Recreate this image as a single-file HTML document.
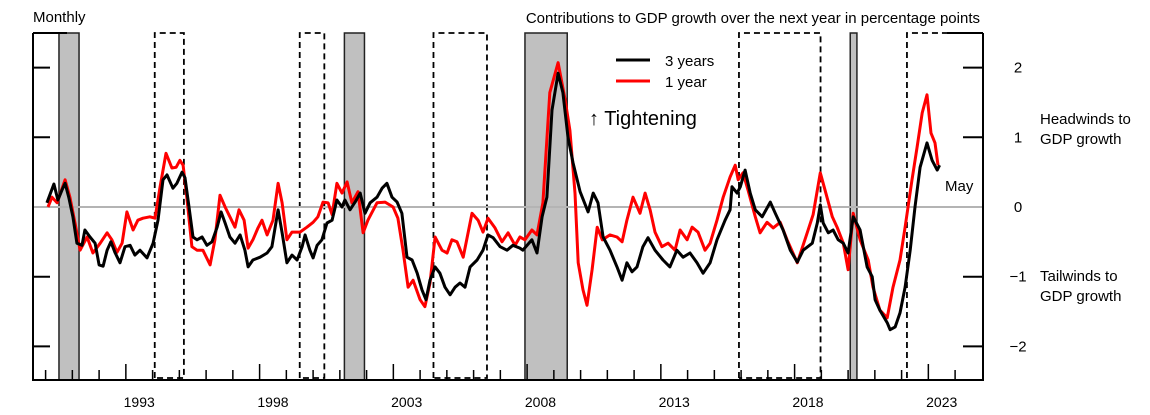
<!DOCTYPE html>
<html><head><meta charset="utf-8"><style>
html,body{margin:0;padding:0;background:#fff;}
svg{display:block;font-family:"Liberation Sans",sans-serif;}
</style></head><body>
<svg id="chart" width="1150" height="415" viewBox="0 0 1150 415" xmlns="http://www.w3.org/2000/svg">
<text x="33" y="22" font-size="15">Monthly</text>
<text x="980" y="23" font-size="15" text-anchor="end">Contributions to GDP growth over the next year in percentage points</text>
<g id="shade"></g>
<line x1="33" y1="207" x2="983" y2="207" stroke="#b4b4b4" stroke-width="2"/>
<g id="lines"></g>
<g id="axes"></g>
<g>
<line x1="616" y1="60" x2="650" y2="60" stroke="#000" stroke-width="3"/>
<text x="665" y="66" font-size="15">3 years</text>
<line x1="616" y1="81" x2="650" y2="81" stroke="#f00" stroke-width="3"/>
<text x="665" y="87" font-size="15">1 year</text>
</g>
<text x="589" y="125" font-size="20">↑ Tightening</text>
<text x="945" y="191" font-size="15">May</text>
<text x="1040" y="124" font-size="15">Headwinds to</text>
<text x="1040" y="144" font-size="15">GDP growth</text>
<text x="1040" y="281" font-size="15">Tailwinds to</text>
<text x="1040" y="301" font-size="15">GDP growth</text>
</svg>
<script>
const yTicks=[2,1,0,-1,-2];
const yTickLabels=["2","1","0","\u22121","\u22122"];
const xLabelYears=[1993,1998,2003,2008,2013,2018,2023];
const recessions=[[1990.5,1991.25],[2001.17,2001.92],[2007.92,2009.5],[2020.08,2020.33]];
const tightenings=[[1994.08,1995.17],[1999.5,2000.42],[2004.5,2006.5],[2015.92,2018.97],[2022.2,2025.2]];
const dates3y=[1990.05,1990.31,1990.46,1990.61,1990.73,1990.87,1991.02,1991.17,1991.36,1991.47,1991.66,1991.85,1992.00,1992.15,1992.30,1992.44,1992.59,1992.78,1992.97,1993.16,1993.34,1993.53,1993.79,1994.02,1994.20,1994.39,1994.54,1994.76,1994.91,1995.10,1995.21,1995.36,1995.51,1995.66,1995.85,1996.03,1996.22,1996.41,1996.56,1996.71,1996.89,1997.08,1997.27,1997.45,1997.57,1997.75,1998.02,1998.28,1998.46,1998.69,1998.84,1999.02,1999.21,1999.40,1999.59,1999.70,1999.88,2000.00,2000.15,2000.33,2000.52,2000.71,2000.89,2001.08,2001.19,2001.38,2001.57,2001.76,2001.94,2002.13,2002.39,2002.58,2002.76,2002.95,2003.14,2003.32,2003.51,2003.70,2003.89,2004.07,2004.22,2004.37,2004.56,2004.74,2004.93,2005.12,2005.31,2005.49,2005.68,2005.87,2006.13,2006.35,2006.54,2006.73,2006.99,2007.25,2007.47,2007.73,2007.84,2008.18,2008.37,2008.56,2008.74,2008.93,2009.16,2009.34,2009.53,2009.72,2009.98,2010.28,2010.47,2010.65,2010.84,2011.10,2011.36,2011.55,2011.73,2011.92,2012.11,2012.33,2012.52,2012.78,2013.08,2013.34,2013.60,2013.83,2014.09,2014.35,2014.58,2014.84,2015.10,2015.40,2015.59,2015.66,2015.85,2015.97,2016.15,2016.34,2016.53,2016.79,2017.09,2017.28,2017.57,2017.84,2018.10,2018.32,2018.66,2018.85,2018.96,2019.07,2019.26,2019.44,2019.63,2019.82,2020.00,2020.19,2020.45,2020.71,2020.90,2021.01,2021.19,2021.46,2021.57,2021.76,2021.94,2022.13,2022.32,2022.50,2022.69,2022.95,2023.14,2023.33,2023.42];
const values3y=[0.06,0.33,0.10,0.24,0.34,0.13,-0.14,-0.52,-0.55,-0.33,-0.43,-0.52,-0.83,-0.85,-0.62,-0.50,-0.65,-0.80,-0.57,-0.55,-0.69,-0.62,-0.73,-0.52,-0.19,0.39,0.46,0.27,0.34,0.50,0.42,0.00,-0.43,-0.47,-0.43,-0.55,-0.50,-0.29,-0.07,-0.23,-0.43,-0.52,-0.40,-0.62,-0.86,-0.76,-0.72,-0.66,-0.57,-0.04,-0.37,-0.80,-0.69,-0.76,-0.57,-0.40,-0.62,-0.73,-0.55,-0.47,-0.23,-0.19,0.10,0.00,0.10,-0.04,0.07,0.20,-0.09,0.06,0.14,0.27,0.34,0.14,0.07,-0.09,-0.72,-0.76,-0.95,-1.19,-1.33,-1.05,-0.86,-0.95,-1.15,-1.26,-1.15,-1.09,-1.15,-0.86,-0.76,-0.62,-0.40,-0.44,-0.57,-0.62,-0.55,-0.59,-0.62,-0.47,-0.66,-0.14,0.14,1.39,1.92,1.64,1.00,0.63,0.22,-0.07,0.20,0.06,-0.43,-0.62,-0.86,-1.05,-0.80,-0.93,-0.86,-0.57,-0.44,-0.62,-0.76,-0.86,-0.62,-0.72,-0.66,-0.80,-0.95,-0.80,-0.47,-0.19,-0.04,0.29,0.20,0.29,0.53,0.20,-0.04,-0.14,0.07,-0.09,-0.33,-0.62,-0.79,-0.62,-0.52,-0.23,0.03,-0.23,-0.37,-0.33,-0.47,-0.52,-0.66,-0.14,-0.33,-0.86,-1.00,-1.33,-1.48,-1.66,-1.76,-1.72,-1.52,-1.15,-0.62,0.00,0.57,0.92,0.67,0.53,0.60];
const dates1y=[1990.09,1990.24,1990.43,1990.73,1990.91,1991.10,1991.29,1991.55,1991.77,1992.04,1992.30,1992.48,1992.67,1992.86,1993.04,1993.27,1993.45,1993.64,1993.90,1994.09,1994.28,1994.50,1994.72,1994.88,1995.02,1995.14,1995.29,1995.47,1995.66,1995.88,1996.15,1996.33,1996.52,1996.71,1996.89,1997.08,1997.23,1997.42,1997.57,1997.75,1997.94,1998.09,1998.28,1998.50,1998.69,1998.84,1999.02,1999.21,1999.51,1999.77,2000.00,2000.18,2000.37,2000.56,2000.71,2000.89,2001.08,2001.27,2001.45,2001.68,2001.87,2002.05,2002.39,2002.69,2002.99,2003.17,2003.36,2003.55,2003.74,2004.00,2004.18,2004.37,2004.56,2004.82,2005.01,2005.19,2005.38,2005.61,2005.94,2006.17,2006.35,2006.54,2006.80,2007.06,2007.29,2007.55,2007.73,2007.92,2008.18,2008.37,2008.59,2008.85,2009.16,2009.42,2009.60,2009.79,2009.91,2010.09,2010.24,2010.43,2010.62,2010.81,2011.10,2011.36,2011.55,2011.73,2011.96,2012.22,2012.41,2012.60,2012.78,2013.04,2013.27,2013.53,2013.72,2013.98,2014.17,2014.39,2014.65,2014.84,2015.10,2015.33,2015.59,2015.78,2015.89,2016.07,2016.26,2016.53,2016.71,2016.97,2017.20,2017.46,2017.72,2018.10,2018.47,2018.69,2018.96,2019.14,2019.41,2019.59,2019.82,2020.00,2020.19,2020.45,2020.75,2020.93,2021.19,2021.46,2021.68,2021.94,2022.13,2022.39,2022.58,2022.77,2022.95,2023.10,2023.25,2023.36];
const values1y=[0.00,0.14,0.06,0.39,0.14,-0.23,-0.62,-0.43,-0.66,-0.52,-0.37,-0.47,-0.65,-0.52,-0.07,-0.33,-0.19,-0.16,-0.14,-0.16,0.29,0.77,0.56,0.57,0.67,0.60,0.10,-0.57,-0.62,-0.62,-0.83,-0.47,0.17,0.00,-0.14,-0.29,-0.04,-0.19,-0.59,-0.47,-0.30,-0.19,-0.40,-0.19,0.34,0.06,-0.47,-0.36,-0.36,-0.29,-0.22,-0.14,0.07,0.06,-0.11,0.34,0.20,0.36,0.06,0.22,-0.37,-0.19,0.06,0.07,0.00,-0.16,-0.62,-1.15,-1.05,-1.33,-1.43,-1.09,-0.43,-0.62,-0.66,-0.47,-0.50,-0.72,-0.09,-0.19,-0.36,-0.16,-0.30,-0.50,-0.37,-0.55,-0.43,-0.47,-0.33,-0.40,0.06,1.64,2.07,1.54,1.10,0.20,-0.80,-1.19,-1.41,-0.90,-0.29,-0.47,-0.40,-0.43,-0.50,-0.19,0.14,-0.09,0.20,-0.04,-0.36,-0.57,-0.52,-0.62,-0.33,-0.47,-0.29,-0.36,-0.62,-0.52,-0.19,0.14,0.43,0.60,0.39,0.49,0.24,-0.14,-0.37,-0.22,-0.30,-0.22,-0.47,-0.80,-0.37,-0.11,0.49,0.24,-0.14,-0.29,-0.52,-0.90,-0.09,-0.47,-0.76,-1.15,-1.48,-1.59,-1.15,-0.76,-0.29,0.39,0.86,1.35,1.61,1.06,0.92,0.60];

const NS="http://www.w3.org/2000/svg";
const L=33,R=983,T=33,B=380;
const xS=t=>45.6+(t-1990)*26.75;
const yS=v=>207-v*69.7;
function mk(tag,attrs,parent){const e=document.createElementNS(NS,tag);for(const k in attrs)e.setAttribute(k,attrs[k]);parent.appendChild(e);return e;}
const shade=document.getElementById('shade'),lines=document.getElementById('lines'),axes=document.getElementById('axes');
recessions.forEach(r=>{
 const e=mk('rect',{x:xS(r[0]),y:T,width:xS(r[1])-xS(r[0]),height:B-T,fill:'#c0c0c0',stroke:'#222','stroke-width':1.5},shade);
 
 
});
tightenings.forEach(r=>{
 const x1=xS(r[0]),x2=Math.min(xS(r[1]),R);
 const e=mk('path',{d:`M${x1},${B-2}V${T}H${x2}`+(xS(r[1])<R?`V${B-2}H${x1}`:''),fill:'none',stroke:'#000','stroke-width':1.8,'stroke-dasharray':'6,4'},shade);
 
 
});
function drawLine(d,v,color,name){
 const pts=d.map((t,i)=>xS(t).toFixed(1)+','+yS(v[i]).toFixed(1)).join(' ');
 const e=mk('polyline',{points:pts,fill:'none',stroke:color,'stroke-width':3,'stroke-linejoin':'round'},lines);
 
 
}
drawLine(dates1y,values1y,'#f00','series-1-year');
drawLine(dates3y,values3y,'#000','series-3-years');
// frame
const fr=mk('path',{d:`M${L},${T}V${B}H${R}V${T}M${L},${T}H67M947,${T}H${R}`,fill:'none',stroke:'#000','stroke-width':2},axes);


yTicks.forEach((v,i)=>{
 if(v!==0){
  const a=mk('line',{x1:L,x2:L+17,y1:yS(v),y2:yS(v),stroke:'#000','stroke-width':2},axes);
  
  
  const b=mk('line',{x1:R-20,x2:R,y1:yS(v),y2:yS(v),stroke:'#000','stroke-width':2},axes);
  
  
 }
 const t=mk('text',{x:1018,y:yS(v)+5,'font-size':15,'text-anchor':'middle'},axes);
 t.textContent=yTickLabels[i];
 
 
});
for(let y=1990;y<=2024;y++){
 const x=xS(y);if(x<L||x>R)continue;
 const tall=(y-1993)%5===0;
 const e=mk('line',{x1:x,x2:x,y1:tall?364:370,y2:B,stroke:'#000','stroke-width':1.5},axes);
 
 
}
xLabelYears.forEach(y=>{
 const t=mk('text',{x:xS(y+0.5),y:407,'font-size':14,'text-anchor':'middle'},axes);
 t.textContent=y;
 
 
});
</script>
</body></html>
